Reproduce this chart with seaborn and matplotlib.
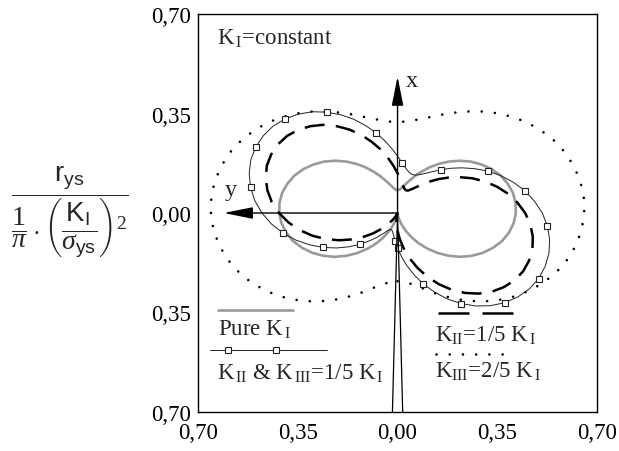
import numpy as np
import seaborn as sns
import matplotlib.pyplot as plt

# polar angle (deg) from the x-axis (crack line, pointing up), y-axis points left
theta = np.arange(-180, 181, 5)

# normalized plastic zone radius r / ((1/pi)(K_I/sigma_ys)^2), theta = -180 ... 180
r_pure = [0.000, 0.003, 0.012, 0.026, 0.046, 0.071, 0.099, 0.131, 0.164, 0.199,
          0.234, 0.269, 0.301, 0.331, 0.357, 0.380, 0.397, 0.409, 0.415, 0.416,
          0.411, 0.400, 0.385, 0.365, 0.341, 0.315, 0.286, 0.256, 0.226, 0.196,
          0.168, 0.143, 0.121, 0.104, 0.091, 0.083, 0.080,
          0.083, 0.091, 0.104, 0.121, 0.143, 0.168, 0.196, 0.226, 0.256, 0.286,
          0.315, 0.341, 0.365, 0.385, 0.400, 0.411, 0.416, 0.415, 0.409, 0.397,
          0.380, 0.357, 0.331, 0.301, 0.269, 0.234, 0.199, 0.164, 0.131, 0.099,
          0.071, 0.046, 0.026, 0.012, 0.003, 0.000]

r_k2 = [0.063, 0.093, 0.128, 0.166, 0.206, 0.247, 0.289, 0.329, 0.367, 0.401,
        0.431, 0.455, 0.474, 0.486, 0.491, 0.490, 0.482, 0.468, 0.448, 0.422,
        0.393, 0.360, 0.325, 0.289, 0.252, 0.217, 0.185, 0.155, 0.130, 0.110,
        0.096, 0.087, 0.085, 0.090, 0.101, 0.118, 0.140,
        0.167, 0.198, 0.232, 0.267, 0.304, 0.339, 0.373, 0.405, 0.432, 0.455,
        0.473, 0.484, 0.489, 0.488, 0.479, 0.464, 0.443, 0.416, 0.384, 0.348,
        0.309, 0.268, 0.227, 0.186, 0.147, 0.111, 0.078, 0.051, 0.029, 0.013,
        0.004, 0.002, 0.008, 0.020, 0.038, 0.063]

r_k2k3 = [0.123, 0.153, 0.188, 0.226, 0.266, 0.307, 0.349, 0.389, 0.427, 0.461,
          0.491, 0.515, 0.534, 0.546, 0.551, 0.550, 0.542, 0.528, 0.508, 0.482,
          0.453, 0.420, 0.385, 0.349, 0.312, 0.277, 0.245, 0.215, 0.190, 0.170,
          0.156, 0.147, 0.145, 0.150, 0.161, 0.178, 0.200,
          0.227, 0.258, 0.292, 0.327, 0.364, 0.399, 0.433, 0.465, 0.492, 0.515,
          0.533, 0.544, 0.549, 0.548, 0.539, 0.524, 0.503, 0.476, 0.444, 0.408,
          0.369, 0.328, 0.287, 0.246, 0.207, 0.171, 0.138, 0.111, 0.089, 0.073,
          0.064, 0.062, 0.068, 0.080, 0.098, 0.123]

r_k3 = [0.240, 0.243, 0.252, 0.266, 0.286, 0.311, 0.339, 0.371, 0.404, 0.439,
        0.474, 0.509, 0.541, 0.571, 0.597, 0.620, 0.637, 0.649, 0.655, 0.656,
        0.651, 0.640, 0.625, 0.605, 0.581, 0.555, 0.526, 0.496, 0.466, 0.436,
        0.408, 0.383, 0.361, 0.344, 0.331, 0.323, 0.320,
        0.323, 0.331, 0.344, 0.361, 0.383, 0.408, 0.436, 0.466, 0.496, 0.526,
        0.555, 0.581, 0.605, 0.625, 0.640, 0.651, 0.656, 0.655, 0.649, 0.637,
        0.620, 0.597, 0.571, 0.541, 0.509, 0.474, 0.439, 0.404, 0.371, 0.339,
        0.311, 0.286, 0.266, 0.252, 0.243, 0.240]

ticks = [-0.70, -0.35, 0.0, 0.35, 0.70]
tick_labels = ['0,70', '0,35', '0,00', '0,35', '0,70']

# crack faces behind the tip
crack_x = [-0.018, 0.0, 0.018]
crack_y = [-0.70, 0.0, -0.70]

sns.set_style("white")
plt.rcParams['font.family'] = ['Liberation Serif', 'DejaVu Serif']
plt.rcParams['mathtext.fontset'] = 'custom'
plt.rcParams['mathtext.rm'] = 'Liberation Serif'
plt.rcParams['mathtext.it'] = 'Liberation Serif:italic'
plt.rcParams['mathtext.sf'] = 'Liberation Sans'

FS = 16.5
GRAY = '#9a9a9a'
DASH = (0, (8, 4.5))
DOT = (0, (0.01, 5))

fig = plt.figure(figsize=(6.19, 4.52), dpi=100)
ax = fig.add_axes([0.320, 0.0863, 0.6445, 0.8805])

t = np.deg2rad(theta)


def xy(r):
    r = np.asarray(r)
    return -r * np.sin(t), r * np.cos(t)


x, y = xy(r_k3)
sns.lineplot(x=x, y=y, sort=False, estimator=None, ax=ax, color='k', lw=1.9,
             linestyle=DOT, dash_capstyle='round')
x, y = xy(r_pure)
sns.lineplot(x=x, y=y, sort=False, estimator=None, ax=ax, color=GRAY, lw=1.9)
x, y = xy(r_k2)
sns.lineplot(x=x, y=y, sort=False, estimator=None, ax=ax, color='k', lw=1.8,
             linestyle=DASH)
x, y = xy(r_k2k3)
sns.lineplot(x=x, y=y, sort=False, estimator=None, ax=ax, color='#222222', lw=0.7,
             marker='s', markersize=5, markerfacecolor='white',
             markeredgecolor='#222222', markeredgewidth=0.8, markevery=0.08)

ax.plot(crack_x, crack_y, color='k', lw=0.9)

# coordinate arrows
ax.annotate('', xy=(0, 0.48), xytext=(0, 0),
            arrowprops=dict(arrowstyle='-|>,head_length=0.9,head_width=0.18',
                            color='k', lw=1, mutation_scale=20, shrinkA=0, shrinkB=0))
ax.annotate('', xy=(-0.61, 0), xytext=(0, 0),
            arrowprops=dict(arrowstyle='-|>,head_length=0.9,head_width=0.18',
                            color='k', lw=1, mutation_scale=20, shrinkA=0, shrinkB=0))
ax.text(0.03, 0.448, 'x', fontsize=FS + 1, ha='left', va='baseline')
ax.text(-0.606, 0.063, 'y', fontsize=FS + 1, ha='left', va='baseline')

SI = r'$_{\,\mathrm{I}}$'
SII = r'$_{\mathrm{II}}$'
SIII = r'$_{\,\mathrm{III}}$'

ax.text(-0.634, 0.595, 'K' + SI + '=constant', fontsize=FS, va='baseline')

# legend keys
ax.plot([-0.63, -0.3675], [-0.34, -0.34], color=GRAY, lw=1.9)
ax.text(-0.63, -0.427, 'Pure K' + SI, fontsize=FS, va='baseline')
ax.plot([-0.658, -0.2485], [-0.483, -0.483], color='#222222', lw=0.7)
ax.plot([-0.595, -0.427], [-0.483, -0.483], ls='none', marker='s', markersize=5,
        markerfacecolor='white', markeredgecolor='#222222', markeredgewidth=0.8)
ax.text(-0.634, -0.5845, 'K' + r'$_{\,\mathrm{II}}$' + ' & K' + SIII + '=1/5 K' + SI,
        fontsize=FS, va='baseline')
ax.plot([0.1435, 0.406], [-0.3535, -0.3535], color='k', lw=1.8,
        linestyle=(0, (12.4, 5.2)))
ax.text(0.133, -0.448, 'K' + SII + '=1/5 K' + SI, fontsize=FS, va='baseline')
ax.plot([0.1365, 0.40], [-0.497, -0.497], color='k', lw=1.9,
        linestyle=DOT, dash_capstyle='round')
ax.text(0.133, -0.5775, 'K' + r'$_{\mathrm{III}}$' + '=2/5 K' + SI, fontsize=FS,
        va='baseline')

ax.set_xlim(-0.70, 0.70)
ax.set_ylim(-0.70, 0.70)
ax.set_xticks(ticks)
ax.set_xticklabels(tick_labels)
ax.set_yticks(ticks)
ax.set_yticklabels(tick_labels)
ax.tick_params(axis='x', direction='in', length=8, width=1, pad=7,
               labelsize=FS, colors='k')
ax.tick_params(axis='y', length=0, pad=5, labelsize=FS, colors='k')
ax.set_xlabel('')
ax.set_ylabel('')
for s in ax.spines.values():
    s.set_color('k')
    s.set_linewidth(1.0)
    s.set_visible(True)

fig.text(0.113, 0.53,
         r'$\dfrac{\mathsf{r_{ys}}}{\dfrac{1}{\pi}\cdot\left(\dfrac{\mathsf{K_I}}{\sigma_{\mathsf{ys}}}\right)^2}$',
         fontsize=20, ha='center', va='center')

fig.savefig('out.png', dpi=100)
